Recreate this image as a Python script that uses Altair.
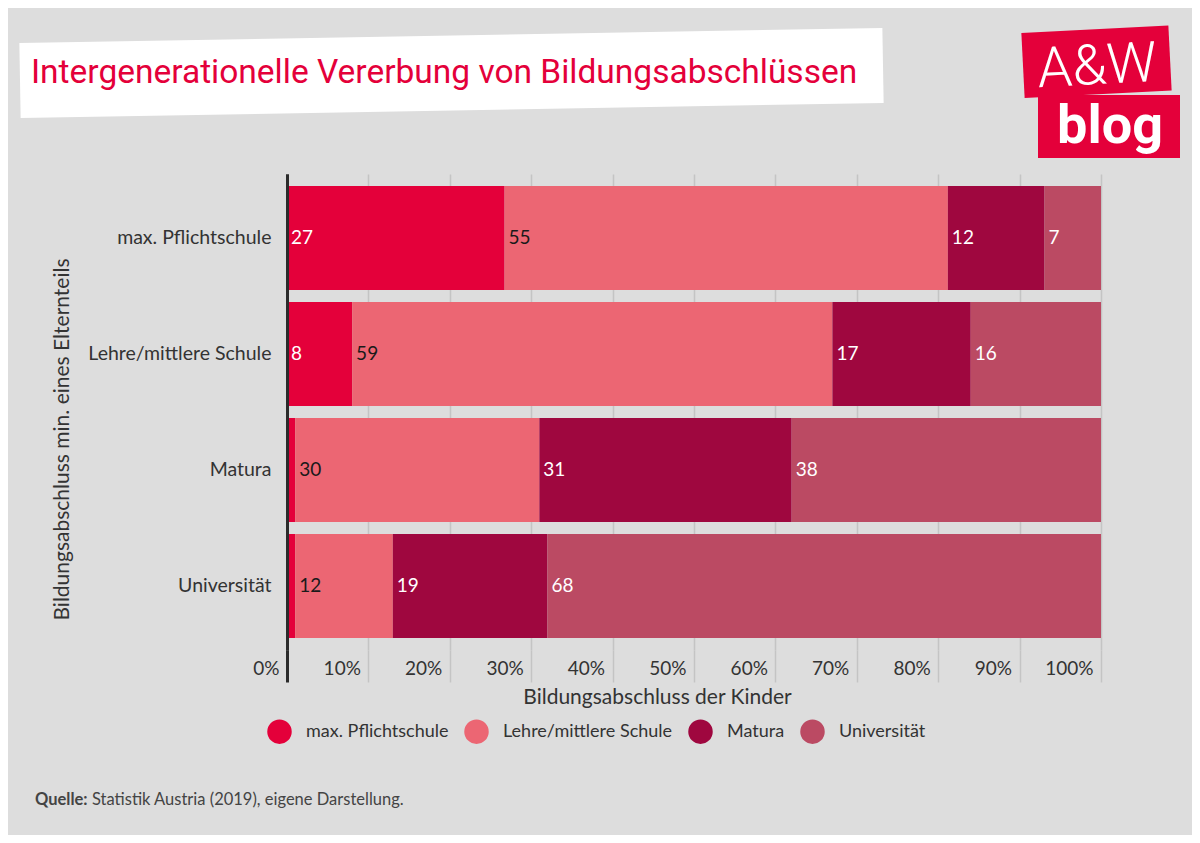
import altair as alt
import pandas as pd

FONT = "Lato"
TITLE_FONT = "Roboto"

parents = ["max. Pflichtschule", "Lehre/mittlere Schule", "Matura", "Universität"]
children = ["max. Pflichtschule", "Lehre/mittlere Schule", "Matura", "Universität"]
v_pflicht = [27, 8, 1, 1]
v_lehre = [55, 59, 30, 12]
v_matura = [12, 17, 31, 19]
v_uni = [7, 16, 38, 68]
colors = ["#e4003a", "#ec6673", "#9f073f", "#bb4a63"]
x_ticks = [0, 0.1, 0.2, 0.3, 0.4, 0.5, 0.6, 0.7, 0.8, 0.9, 1.0]

title_text = "Intergenerationelle Vererbung von Bildungsabschlüssen"
y_title = "Bildungsabschluss min. eines Elternteils"
x_title = "Bildungsabschluss der Kinder"
source_bold = "Quelle:"
source_rest = "Statistik Austria (2019), eigene Darstellung."

series = [v_pflicht, v_lehre, v_matura, v_uni]
rows = []
for i, p in enumerate(parents):
    for j, c in enumerate(children):
        rows.append({"parent": p, "child": c, "order": j, "value": series[j][i]})
df = pd.DataFrame(rows)

base = alt.Chart(df).transform_stack(
    stack="value",
    groupby=["parent"],
    as_=["x0", "x1"],
    offset="normalize",
    sort=[alt.SortField("order", order="ascending")],
)

zero_test = "datum.value === 0"
X = alt.X(
    "x0:Q",
    scale=alt.Scale(domain=[0, 1], nice=False),
    axis=alt.Axis(
        values=x_ticks,
        format=".0%",
        title=x_title,
        domain=False,
        grid=True,
        gridColor={"condition": {"test": zero_test, "value": "#2b2b2b"}, "value": "#c4c4c4"},
        gridWidth={"condition": {"test": zero_test, "value": 3}, "value": 1.5},
        tickSize=32,
        tickColor={"condition": {"test": zero_test, "value": "#2b2b2b"}, "value": "#c4c4c4"},
        tickWidth={"condition": {"test": zero_test, "value": 3}, "value": 1.5},
        labelAlign="right",
        labelBaseline="middle",
        labelPadding=-14,
        labelOffset=-8,
        labelFlush=False,
        labelOverlap=False,
        labelFont=FONT,
        labelFontSize=19,
        labelColor="#333333",
        titleFont=FONT,
        titleFontSize=21,
        titleFontWeight="normal",
        titleColor="#333333",
        titleX=370,
        titleY=47,
        titleBaseline="middle",
    ),
)
Y = alt.Y(
    "parent:N",
    sort=parents,
    scale=alt.Scale(paddingInner=0.1034, paddingOuter=0.1034),
    axis=alt.Axis(
        title=y_title,
        domain=True,
        domainColor="#2b2b2b",
        domainWidth=3,
        ticks=False,
        labelFont=FONT,
        labelFontSize=19.5,
        labelColor="#333333",
        labelPadding=16,
        labelLimit=400,
        zindex=1,
        titleFont=FONT,
        titleFontSize=21,
        titleFontWeight="normal",
        titleColor="#333333",
        titleX=-225,
        titleY=265,
        titleBaseline="middle",
    ),
)

bars = base.mark_bar().encode(
    y=Y,
    x=X,
    x2="x1:Q",
    color=alt.Color(
        "child:N",
        scale=alt.Scale(domain=children, range=colors),
        legend=alt.Legend(
            orient="none",
            legendX=-20,
            legendY=545,
            direction="horizontal",
            title=None,
            symbolType="circle",
            symbolSize=600,
            symbolStrokeWidth=0,
            symbolOpacity=1,
            labelFont=FONT,
            labelFontSize=18,
            labelColor="#333333",
            labelOffset=14,
            labelLimit=400,
            columnPadding=15,
        ),
    ),
)

labels = base.transform_filter("datum.value > 2").mark_text(
    align="left", baseline="middle", dx=4, fontSize=19, font=FONT
).encode(
    y=Y,
    x=X,
    text="value:Q",
    color=alt.condition(
        "datum.child === 'Lehre/mittlere Schule'", alt.value("#1a1a1a"), alt.value("#ffffff")
    ),
)

deco = alt.Chart(pd.DataFrame({"a": [0]}))

title_box = deco.mark_rule(color="#ffffff", strokeWidth=75, strokeCap="butt").encode(
    x=alt.value(-267), x2=alt.value(596), y=alt.value(-93.5), y2=alt.value(-108.5)
)
title = deco.mark_text(
    text=title_text, align="left", baseline="alphabetic", font=TITLE_FONT,
    fontSize=33.5, color="#e4003a"
).encode(x=alt.value(-256), y=alt.value(-91))

logo_box1 = deco.mark_rule(color="#e4003a", strokeWidth=65, strokeCap="butt").encode(
    x=alt.value(736), x2=alt.value(883), y=alt.value(-108.5), y2=alt.value(-116)
)
logo_box2 = deco.mark_rect(color="#e4003a").encode(
    x=alt.value(751), x2=alt.value(893), y=alt.value(-79), y2=alt.value(-16)
)
logo_t1 = deco.mark_text(
    text="A&W", align="center", baseline="alphabetic", font="Roboto",
    fontSize=56, fontWeight=300, color="#ffffff", angle=357
).encode(x=alt.value(811), y=alt.value(-90))
logo_t2 = deco.mark_text(
    text="blog", align="center", baseline="alphabetic", font="Roboto",
    fontSize=54, fontWeight="bold", color="#ffffff"
).encode(x=alt.value(823), y=alt.value(-31))

src1 = deco.mark_text(
    text=source_bold, align="left", baseline="alphabetic", font=FONT,
    fontSize=16.5, fontWeight="bold", color="#444444"
).encode(x=alt.value(-252), y=alt.value(631))
src2 = deco.mark_text(
    text=source_rest, align="left", baseline="alphabetic", font=FONT,
    fontSize=16.5, color="#444444"
).encode(x=alt.value(-195), y=alt.value(631))

chart = alt.layer(
    bars, labels, title_box, title, logo_box1, logo_box2, logo_t1, logo_t2, src1, src2
).properties(
    width=814,
    height=476,
    autosize=alt.AutoSizeParams(type="none"),
    padding={"left": 279, "top": 166, "right": 91, "bottom": 185},
    background="#dddddd",
).configure_view(strokeWidth=0)

chart.save("out.html", embed_options={"renderer": "svg", "actions": False})
